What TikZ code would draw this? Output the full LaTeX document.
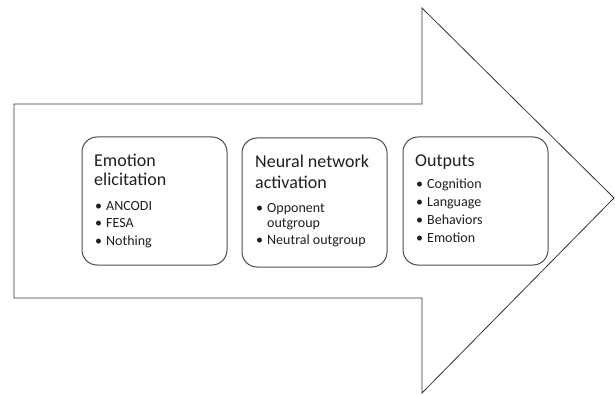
\documentclass[tikz,border=0pt]{standalone}
\usepackage{fontspec}
\setmainfont{Carlito}
\begin{document}
\begin{tikzpicture}[x=1pt,y=1pt,
  arrowline/.style={draw=black!80, line width=0.8pt, line join=miter},
  box/.style={draw=black!70, line width=1pt, rounded corners=15pt},
  ttl/.style={anchor=base west, inner sep=0pt, text=black!88, font=\fontsize{18}{19}\selectfont},
  itm/.style={anchor=base west, inner sep=0pt, text=black!88, font=\fontsize{14}{15}\selectfont}]
\useasboundingbox (0,0) rectangle (615,394);
% big arrow (y = 394 - pixel y)
\coordinate (a1) at (14,290);
\coordinate (a2) at (422,290);
\coordinate (a3) at (422,386);
\coordinate (tip) at (614,196);
\coordinate (a5) at (422,1);
\coordinate (a6) at (422,96);
\coordinate (a7) at (14,96);
\draw[arrowline] (a1) -- (a2) -- (a3) -- (tip) -- (a5) -- (a6) -- (a7) -- cycle;
% boxes
\draw[box] (82,257) rectangle (227,129);
\draw[box] (242,256) rectangle (387,127);
\draw[box] (403,257) rectangle (548,129);
% box 1
\node[ttl] (t1a) at (94,227) {Emotion};
\node[ttl] (t1b) at (94,208) {elicitation};
\node[itm] (b1a) at (95,184) {•}; \node[itm] (i1a) at (106,184) {ANCODI};
\node[itm] (b1b) at (95,166.5) {•}; \node[itm] (i1b) at (106,166.5) {FESA};
\node[itm] (b1c) at (95,149) {•}; \node[itm] (i1c) at (106,149) {Nothing};
% box 2
\node[ttl] (t2a) at (255,226) {Neural network};
\node[ttl] (t2b) at (255,206) {activation};
\node[itm] (b2a) at (256,182) {•}; \node[itm] (i2a) at (267,182) {Opponent};
\node[itm] (i2b) at (267,167) {outgroup};
\node[itm] (b2c) at (256,150) {•}; \node[itm] (i2c) at (267,150) {Neutral outgroup};
% box 3
\node[ttl] (t3a) at (415,227) {Outputs};
\node[itm] (b3a) at (416,205) {•}; \node[itm] (i3a) at (427,205) {Cognition};
\node[itm] (b3b) at (416,187.5) {•}; \node[itm] (i3b) at (427,187.5) {Language};
\node[itm] (b3c) at (416,170) {•}; \node[itm] (i3c) at (427,170) {Behaviors};
\node[itm] (b3d) at (416,152) {•}; \node[itm] (i3d) at (427,152) {Emotion};
\end{tikzpicture}
\end{document}
